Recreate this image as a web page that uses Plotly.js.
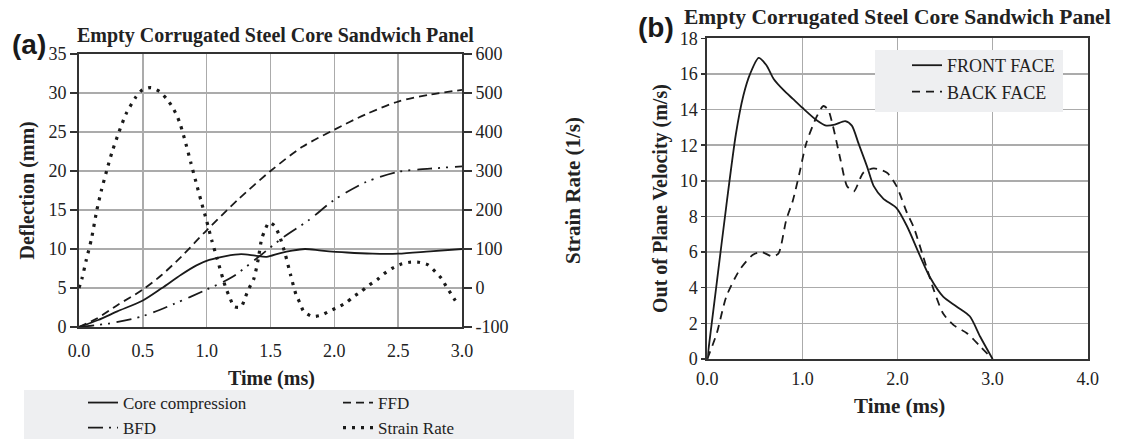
<!DOCTYPE html>
<html>
<head>
<meta charset="utf-8">
<script src="https://cdn.plot.ly/plotly-3.0.1.min.js"></script>
<style>
  html, body { margin: 0; padding: 0; background: #ffffff; overflow: hidden; }
  #chart { width: 1122px; height: 439px; }
</style>
</head>
<body>
<div id="chart"></div>
<script>
// ---- Panel (a): deflections (mm) and strain rate (1/s) vs time (ms) ----
const timeCore = [0, 0.15, 0.3, 0.5, 0.65, 0.8, 0.92, 1.02, 1.15, 1.27, 1.38, 1.47, 1.57, 1.67, 1.77, 1.9, 2.1, 2.3, 2.5, 2.75, 3.0];
const coreCompression = [0, 0.9, 2.0, 3.4, 5.0, 6.7, 7.9, 8.6, 9.1, 9.35, 9.15, 9.0, 9.45, 9.8, 10.0, 9.8, 9.55, 9.4, 9.4, 9.7, 10.0];

const timeFFD = [0, 0.14, 0.3, 0.5, 0.65, 0.8, 1.0, 1.25, 1.5, 1.75, 2.0, 2.25, 2.5, 2.75, 3.0];
const ffd = [0, 1.1, 2.8, 4.8, 6.7, 9.0, 12.4, 16.4, 20.0, 23.1, 25.3, 27.3, 28.9, 29.8, 30.4];

const timeBFD = [0, 0.25, 0.5, 0.75, 1.0, 1.2, 1.4, 1.6, 1.8, 2.0, 2.25, 2.5, 2.75, 3.0];
const bfd = [0, 0.5, 1.4, 3.0, 4.8, 6.4, 8.9, 11.5, 13.7, 16.3, 18.6, 19.9, 20.3, 20.6];

const timeStrain = [0, 0.023, 0.057, 0.097, 0.14, 0.175, 0.217, 0.26, 0.313, 0.368, 0.446, 0.496, 0.564, 0.631, 0.684,
  0.728, 0.764, 0.793, 0.837, 0.877, 0.916, 0.957, 1.0, 1.04, 1.083, 1.127, 1.15, 1.18, 1.216, 1.27, 1.3, 1.33, 1.37,
  1.404, 1.43, 1.456, 1.487, 1.53, 1.57, 1.617, 1.657, 1.699, 1.73, 1.76, 1.827, 1.895, 1.964, 2.03, 2.095, 2.15, 2.21,
  2.27, 2.335, 2.387, 2.45, 2.52, 2.59, 2.66, 2.73, 2.79, 2.84, 2.88, 2.92, 2.96];
const strainRate = [0, 24, 72, 125, 200, 250, 301, 350, 400, 446, 490, 508, 514, 504, 486,
  466, 444, 420, 370, 320, 272, 222, 172, 122, 74, 24, 0, -24, -48, -49, -26, -2, 24,
  74, 125, 148, 168, 160, 134, 85, 34, -16, -38, -60, -73, -70, -59, -49, -37, -22, -9,
  7, 21, 36, 50, 61, 66, 66, 60, 42, 24, 2, -18, -39];

// ---- Panel (b): out of plane velocity (m/s) vs time (ms) ----
const timeFront = [0, 0.1, 0.2, 0.3, 0.38, 0.45, 0.54, 0.62, 0.7, 0.8, 0.9, 1.0, 1.15, 1.25, 1.34, 1.45, 1.52,
  1.59, 1.68, 1.75, 1.85, 1.99, 2.1, 2.24, 2.34, 2.48, 2.62, 2.76, 2.87, 3.0];
const frontFace = [0, 4.3, 8.6, 12.6, 14.8, 16.0, 16.9, 16.5, 15.7, 15.1, 14.6, 14.1, 13.4, 13.1, 13.15, 13.35, 13.1,
  12.1, 10.8, 9.7, 9.0, 8.47, 7.45, 5.75, 4.6, 3.5, 2.95, 2.4, 1.25, 0];

const timeBack = [0, 0.1, 0.2, 0.34, 0.48, 0.57, 0.69, 0.75, 0.83, 0.9, 0.97, 1.04, 1.15, 1.22, 1.27, 1.32, 1.4, 1.47,
  1.54, 1.64, 1.75, 1.89, 1.99, 2.1, 2.17, 2.27, 2.38, 2.48, 2.59, 2.73, 2.87, 3.0];
const backFace = [0, 1.45, 3.5, 5.0, 5.85, 6.0, 5.75, 5.94, 7.8, 8.9, 10.45, 12.1, 13.6, 14.2, 14.0, 13.1, 11.2, 9.7,
  9.4, 10.45, 10.7, 10.45, 9.7, 8.2, 7.4, 5.75, 3.9, 2.55, 1.9, 1.45, 0.7, 0];

const chartTitle = 'Empty Corrugated Steel Core Sandwich Panel';
const ticksA = [0, 0.5, 1.0, 1.5, 2.0, 2.5, 3.0];
const ticksB = [0, 1, 2, 3, 4];
const strainTicks = [-100, 0, 100, 200, 300, 400, 500, 600];
const strainTickText = ['-100', '0', '100', '200', '300', '400', '500', '600'];

const W = 1122, H = 439;
const px = v => v / W;            // pixel column -> paper x
const py = v => (H - v) / H;      // pixel row -> paper y

const SERIF = 'Liberation Serif';
const SANS = 'Liberation Sans';
const INK = '#222222';
const GRID = '#ababab';
const FRAME = '#333333';

const traces = [
  { x: timeCore, y: coreCompression, name: 'Core compression', xaxis: 'x', yaxis: 'y', legend: 'legend',
    mode: 'lines', line: { color: '#1a1a1a', width: 1.8, shape: 'spline', smoothing: 0.8 } },
  { x: timeBFD, y: bfd, name: 'BFD', xaxis: 'x', yaxis: 'y', legend: 'legend',
    mode: 'lines', line: { color: '#1a1a1a', width: 1.8, shape: 'spline', smoothing: 0.8, dash: '15px,6px,2px,6px,2px,7px' } },
  { x: timeFFD, y: ffd, name: 'FFD', xaxis: 'x', yaxis: 'y', legend: 'legend3',
    mode: 'lines', line: { color: '#1a1a1a', width: 1.8, shape: 'spline', smoothing: 0.8, dash: '8px,5px' } },
  { x: timeStrain, y: strainRate, name: 'Strain Rate', xaxis: 'x', yaxis: 'y2', legend: 'legend3',
    mode: 'lines', line: { color: '#1a1a1a', width: 3.2, shape: 'spline', smoothing: 0.6, dash: '3px,6px' } },
  { x: timeFront, y: frontFace, name: 'FRONT FACE', xaxis: 'x2', yaxis: 'y3', legend: 'legend2',
    mode: 'lines', line: { color: '#1a1a1a', width: 1.8, shape: 'spline', smoothing: 0.7 } },
  { x: timeBack, y: backFace, name: 'BACK FACE', xaxis: 'x2', yaxis: 'y3', legend: 'legend2',
    mode: 'lines', line: { color: '#1a1a1a', width: 1.8, shape: 'spline', smoothing: 0.7, dash: '8px,6px' } }
];

const tickFont = { family: SERIF, size: 18, color: INK };
const legendFont = { family: SERIF, size: 17, color: INK };

const layout = {
  width: W, height: H,
  margin: { l: 0, r: 0, t: 0, b: 0, autoexpand: false },
  paper_bgcolor: '#ffffff',
  plot_bgcolor: '#ffffff',
  font: { family: SERIF, color: INK },
  xaxis: {
    domain: [px(79), px(462)], anchor: 'y', range: [0, 3],
    tickvals: ticksA, tickformat: '.1f', tickfont: tickFont,
    ticks: 'outside', ticklen: 6, tickcolor: 'rgba(0,0,0,0)',
    showgrid: true, gridcolor: GRID, gridwidth: 1.5, zeroline: false,
    showline: true, linecolor: FRAME, linewidth: 2, mirror: true
  },
  yaxis: {
    domain: [py(327), py(54)], anchor: 'x', range: [0, 35], dtick: 5,
    tickfont: tickFont, ticks: 'outside', ticklen: 7, tickcolor: FRAME, tickwidth: 1.5,
    showgrid: true, gridcolor: GRID, gridwidth: 1.5, zeroline: false,
    showline: true, linecolor: FRAME, linewidth: 2, mirror: true
  },
  yaxis2: {
    overlaying: 'y', side: 'right', anchor: 'x', range: [-100, 600],
    tickvals: strainTicks, ticktext: strainTickText,
    tickfont: tickFont, ticks: 'outside', ticklen: 8, tickcolor: FRAME, tickwidth: 1.5,
    showgrid: false, zeroline: false, showline: true, linecolor: FRAME, linewidth: 2
  },
  xaxis2: {
    domain: [px(707.3), px(1087.7)], anchor: 'y3', range: [0, 4],
    tickvals: ticksB, tickformat: '.1f', tickfont: tickFont,
    ticks: 'outside', ticklen: 2, tickcolor: 'rgba(0,0,0,0)',
    showgrid: true, gridcolor: GRID, gridwidth: 1.5, zeroline: false,
    showline: true, linecolor: FRAME, linewidth: 2, mirror: true
  },
  yaxis3: {
    domain: [py(359), py(38.3)], anchor: 'x2', range: [0, 18], dtick: 2,
    tickfont: tickFont, ticks: 'outside', ticklen: 4, tickcolor: FRAME, tickwidth: 1.5,
    showgrid: true, gridcolor: GRID, gridwidth: 1.5, zeroline: false,
    showline: true, linecolor: FRAME, linewidth: 2, mirror: true
  },
  legend: {
    x: px(83), y: py(385), xanchor: 'left', yanchor: 'top',
    bgcolor: 'rgba(0,0,0,0)', font: legendFont, tracegroupgap: 0
  },
  legend3: {
    x: px(338), y: py(385), xanchor: 'left', yanchor: 'top',
    bgcolor: 'rgba(0,0,0,0)', font: legendFont, tracegroupgap: 0
  },
  legend2: {
    x: px(907), y: py(47), xanchor: 'left', yanchor: 'top',
    bgcolor: 'rgba(0,0,0,0)', font: { family: SERIF, size: 18, color: INK }, tracegroupgap: 0
  },
  shapes: [
    // legend band under panel (a)
    { type: 'rect', xref: 'paper', yref: 'paper', layer: 'below',
      x0: px(24), x1: px(574), y0: 0, y1: py(390), fillcolor: '#eeeff1', line: { width: 0 } },
    // legend box inside panel (b)
    { type: 'rect', xref: 'paper', yref: 'paper', layer: 'above',
      x0: px(875), x1: px(1063), y0: py(112), y1: py(50), fillcolor: '#eeeff1', line: { width: 0 } }
  ],
  annotations: [
    { text: '<b>' + chartTitle + '</b>', xref: 'paper', yref: 'paper', x: px(275.5), y: py(35),
      xanchor: 'center', yanchor: 'middle', showarrow: false, font: { family: SERIF, size: 20, color: INK } },
    { text: '<b>' + chartTitle + '</b>', xref: 'paper', yref: 'paper', x: px(897.5), y: py(17),
      xanchor: 'center', yanchor: 'middle', showarrow: false, font: { family: SERIF, size: 21.5, color: INK } },
    { text: '<b>(a)</b>', xref: 'paper', yref: 'paper', x: px(28.5), y: py(44),
      xanchor: 'center', yanchor: 'middle', showarrow: false,
      font: { family: SANS, size: 28, color: '#1a1a1a' } },
    { text: '<b>(b)</b>', xref: 'paper', yref: 'paper', x: px(656), y: py(27),
      xanchor: 'center', yanchor: 'middle', showarrow: false,
      font: { family: SANS, size: 28, color: '#1a1a1a' } },
    // axis titles
    { text: '<b>Time (ms)</b>', xref: 'paper', yref: 'paper', x: px(271), y: py(378),
      xanchor: 'center', yanchor: 'middle', showarrow: false, font: { family: SERIF, size: 20, color: INK } },
    { text: '<b>Deflection (mm)</b>', xref: 'paper', yref: 'paper', x: px(27), y: py(190.5),
      xanchor: 'center', yanchor: 'middle', textangle: -90, showarrow: false, font: { family: SERIF, size: 20, color: INK } },
    { text: '<b>Strain Rate (1/s)</b>', xref: 'paper', yref: 'paper', x: px(573), y: py(191),
      xanchor: 'center', yanchor: 'middle', textangle: -90, showarrow: false, font: { family: SERIF, size: 21, color: INK } },
    { text: '<b>Time (ms)</b>', xref: 'paper', yref: 'paper', x: px(899), y: py(406),
      xanchor: 'center', yanchor: 'middle', showarrow: false, font: { family: SERIF, size: 21, color: INK } },
    { text: '<b>Out of Plane Velocity (m/s)</b>', xref: 'paper', yref: 'paper', x: px(660), y: py(199),
      xanchor: 'center', yanchor: 'middle', textangle: -90, showarrow: false, font: { family: SERIF, size: 20, color: INK } }
  ]
};

Plotly.newPlot('chart', traces, layout, { staticPlot: true, displayModeBar: false });
</script>
</body>
</html>
